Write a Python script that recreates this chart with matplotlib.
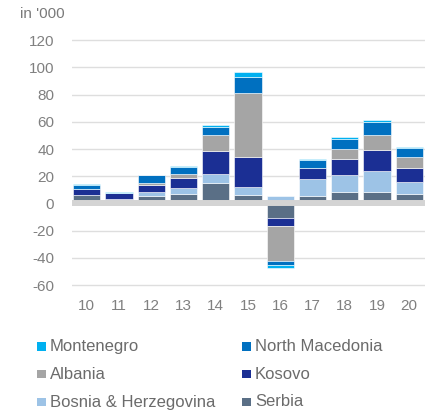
import numpy as np
import matplotlib
matplotlib.use("Agg")
import matplotlib.pyplot as plt
from matplotlib.patches import Rectangle

plt.rcParams['font.family'] = ['Liberation Sans', 'DejaVu Sans']
plt.rcParams['axes.unicode_minus'] = False

years = ['10', '11', '12', '13', '14', '15', '16', '17', '18', '19', '20']
# net flows in '000, stacked bottom -> top
serbia = [5.9, 0.0, 5.3, 6.8, 14.9, 6.2, -10.7, 5.7, 8.2, 8.7, 7.0]
bosnia = [0.0, 3.0, 3.4, 4.4, 6.8, 5.7, 5.5, 12.3, 12.5, 15.2, 8.6]
kosovo = [4.4, 4.4, 5.1, 7.6, 17.2, 22.1, -5.6, 8.3, 11.8, 15.4, 10.8]
albania = [0.0, 0.0, 1.2, 2.9, 11.3, 47.1, -26.0, 0.0, 7.6, 10.8, 8.1]
north_macedonia = [3.5, 0.0, 5.9, 5.1, 6.3, 12.2, -2.7, 5.9, 7.6, 9.6, 6.1]
montenegro = [0.4, 1.0, 0.3, 0.7, 1.2, 3.4, -2.2, 0.6, 1.2, 1.7, 0.7]

series = [
    ("Serbia", serbia, "#5a6f86"),
    ("Bosnia & Herzegovina", bosnia, "#9dc3e6"),
    ("Kosovo", kosovo, "#1b2f94"),
    ("Albania", albania, "#a5a5a5"),
    ("North Macedonia", north_macedonia, "#0070c0"),
    ("Montenegro", montenegro, "#00b0f0"),
]

fig = plt.figure(figsize=(4.34, 4.12), dpi=100)
ax = fig.add_axes([71.7 / 434, 1 - 290.5 / 412, (425 - 71.7) / 434, 255.7 / 412])

x = np.arange(len(years))
pos = np.zeros(len(years))
neg = np.zeros(len(years))
for name, vals, col in series:
    v = np.array(vals)
    bottom = np.where(v >= 0, pos, neg)
    ax.bar(x, v, bottom=bottom, width=0.845, color=col, edgecolor="white",
           linewidth=0.4, zorder=2)
    pos += np.clip(v, 0, None)
    neg += np.clip(v, None, 0)

ax.axhline(0, color="#d4d4d4", lw=4.3, zorder=3)
ax.set_ylim(-64, 124)
ax.set_xlim(-0.47, 10.49)
ax.set_yticks(np.arange(-60, 121, 20))
ax.set_xticks(x)
ax.set_xticklabels(years)
ax.yaxis.grid(True, color="#dedede", lw=1.0, zorder=0)
ax.set_axisbelow(True)
for s in ax.spines.values():
    s.set_visible(False)
ax.tick_params(axis="both", length=0, labelsize=11, colors="#808080")
ax.tick_params(axis="y", pad=12.5)
ax.tick_params(axis="x", pad=6)

fig.text(20 / 434, 1 - 14.5 / 412, "in '000", fontsize=11, color="#7a7a7a",
         va="center", ha="left")

# legend, two columns, row-major order
legend_order = ["Montenegro", "North Macedonia", "Albania", "Kosovo",
                "Bosnia & Herzegovina", "Serbia"]
colors = {n: c for n, _, c in series}
col_x = [37.3, 242.3]
row_y = [346.5, 374.3, 402.0]
sq = 8.3
for i, name in enumerate(legend_order):
    cx = col_x[i % 2]
    cy = row_y[i // 2]
    fig.add_artist(Rectangle((cx / 434, 1 - (cy + sq / 2) / 412), sq / 434, sq / 412,
                             transform=fig.transFigure, color=colors[name], lw=0))
    fig.text((cx + 12.7) / 434, 1 - cy / 412, name, fontsize=12, color="#6b6b6b",
             va="center", ha="left")

fig.savefig("out.png", dpi=100)
